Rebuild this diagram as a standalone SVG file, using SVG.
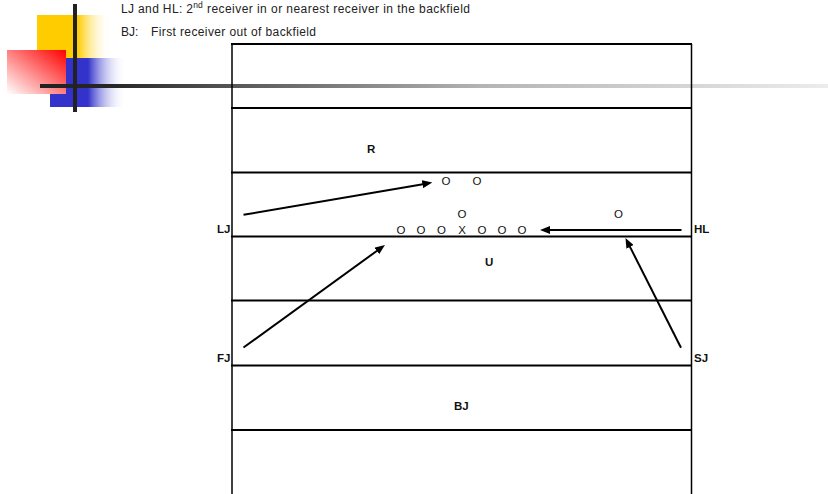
<svg xmlns="http://www.w3.org/2000/svg" width="828" height="494" viewBox="0 0 828 494">
  <style>
    .hdr { font-family: "Liberation Sans", Arial, sans-serif; font-size: 12px; fill: #222; }
    .lbl { font-family: "Liberation Sans", Arial, sans-serif; font-size: 11.5px; font-weight: bold; fill: #111; }
    .plr { font-family: "Liberation Sans", Arial, sans-serif; font-size: 11.5px; fill: #111; text-anchor: middle; }
    .yd { stroke: #000; stroke-width: 2; fill: none; }
    .side { stroke: #000; stroke-width: 1.5; fill: none; }
    .route { stroke: #000; stroke-width: 2; fill: none; marker-end: url(#head); }
  </style>
  <defs>
    <linearGradient id="gYellow" x1="0" y1="0" x2="1" y2="0">
      <stop offset="0" stop-color="#ffcc00"/>
      <stop offset="0.55" stop-color="#ffcc00"/>
      <stop offset="1" stop-color="#ffffff" stop-opacity="0"/>
    </linearGradient>
    <linearGradient id="gBlue" x1="0" y1="0" x2="1" y2="0">
      <stop offset="0" stop-color="#3333cc"/>
      <stop offset="0.5" stop-color="#3333cc"/>
      <stop offset="1" stop-color="#ffffff" stop-opacity="0"/>
    </linearGradient>
    <linearGradient id="gRed" x1="1" y1="0" x2="0" y2="1">
      <stop offset="0" stop-color="#ff0000"/>
      <stop offset="1" stop-color="#ffffff"/>
    </linearGradient>
    <linearGradient id="gBar" gradientUnits="userSpaceOnUse" x1="40" y1="0" x2="828" y2="0">
      <stop offset="0" stop-color="#222"/>
      <stop offset="0.09" stop-color="#262626"/>
      <stop offset="0.24" stop-color="#555"/>
      <stop offset="0.56" stop-color="#b4b4b4"/>
      <stop offset="1" stop-color="#ececec"/>
    </linearGradient>
    <marker id="head" markerUnits="userSpaceOnUse" markerWidth="10" markerHeight="8" refX="2" refY="4" orient="auto">
      <path d="M0,0 L10,4 L0,8 z" fill="#000"/>
    </marker>
  </defs>

  <rect width="828" height="494" fill="#fff"/>

  <!-- corner ornament -->
  <g id="ornament">
    <rect x="37" y="15" width="74" height="43" fill="url(#gYellow)"/>
    <rect x="50" y="58" width="76" height="49" fill="url(#gBlue)"/>
    <rect x="7" y="50" width="59" height="44" fill="url(#gRed)"/>
    <rect x="40" y="84" width="788" height="4" fill="url(#gBar)"/>
    <rect x="73" y="4" width="4" height="108" fill="#222"/>
  </g>

  <!-- header notes -->
  <g id="notes">
    <text class="hdr" x="121" y="12.5"><tspan textLength="72" lengthAdjust="spacing">LJ and HL: 2</tspan><tspan font-size="8.5" dy="-4.5">nd</tspan><tspan x="207" dy="4.5" textLength="263" lengthAdjust="spacing">receiver in or nearest receiver in the backfield</tspan></text>
    <text class="hdr" x="121" y="36">BJ:<tspan x="151" textLength="165" lengthAdjust="spacing">First receiver out of backfield</tspan></text>
  </g>

  <!-- field -->
  <g id="field">
    <line class="side" x1="232" y1="44" x2="232" y2="494"/>
    <line class="side" x1="691.5" y1="44" x2="691.5" y2="494"/>
    <line class="yd" x1="231" y1="44" x2="692" y2="44"/>
    <line class="yd" x1="231" y1="108" x2="692" y2="108"/>
    <line class="yd" x1="231" y1="172.5" x2="692" y2="172.5"/>
    <line class="yd" x1="231" y1="236.5" x2="692" y2="236.5"/>
    <line class="yd" x1="231" y1="300.5" x2="692" y2="300.5"/>
    <line class="yd" x1="231" y1="365.5" x2="692" y2="365.5"/>
    <line class="yd" x1="231" y1="430" x2="692" y2="430"/>
  </g>

  <!-- players -->
  <g id="players">
    <text class="plr" x="446" y="185">O</text>
    <text class="plr" x="477" y="185">O</text>
    <text class="plr" x="462" y="217.5">O</text>
    <text class="plr" x="618.5" y="217.5">O</text>
    <text class="plr" x="401" y="233.5">O</text>
    <text class="plr" x="421" y="233.5">O</text>
    <text class="plr" x="441.5" y="233.5">O</text>
    <text class="plr" x="462" y="233.5">X</text>
    <text class="plr" x="482" y="233.5">O</text>
    <text class="plr" x="502" y="233.5">O</text>
    <text class="plr" x="522" y="233.5">O</text>
  </g>

  <!-- officials -->
  <g id="R"><text class="lbl" x="367" y="153">R</text></g>
  <g id="U"><text class="lbl" x="485" y="265.5">U</text></g>
  <g id="BJ"><text class="lbl" x="454" y="410">BJ</text></g>
  <g id="LJ"><text class="lbl" x="230.5" y="233" text-anchor="end">LJ</text></g>
  <g id="FJ"><text class="lbl" x="230.5" y="362" text-anchor="end">FJ</text></g>
  <g id="HL"><text class="lbl" x="694" y="233">HL</text></g>
  <g id="SJ"><text class="lbl" x="694" y="362">SJ</text></g>

  <!-- coverage movements -->
  <g id="connectors">
    <line class="route" x1="243.5" y1="214.8" x2="424.4" y2="183.9"/>
    <line class="route" x1="243.5" y1="347.5" x2="378.5" y2="249.7"/>
    <line class="route" x1="681.5" y1="230" x2="548" y2="230"/>
    <line class="route" x1="681" y1="347.7" x2="629.1" y2="245.1"/>
  </g>
</svg>
